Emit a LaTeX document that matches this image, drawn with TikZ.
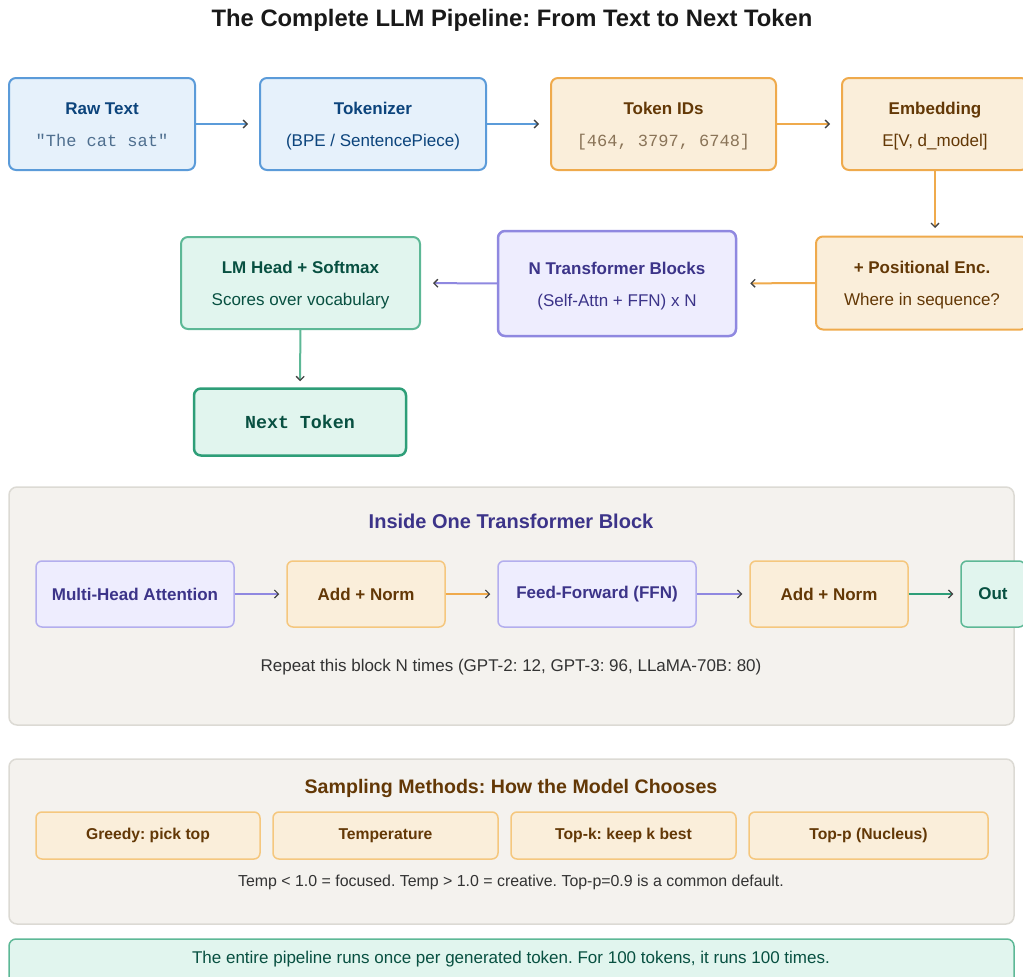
\documentclass[tikz,border=0pt]{standalone}
\usepackage{fontspec}
\setmainfont{Liberation Sans}
\setmonofont{Liberation Mono}
\usetikzlibrary{arrows.meta}
\frenchspacing

\definecolor{bluefill}{HTML}{E6F1FB}
\definecolor{blueline}{HTML}{5B9BD9}
\definecolor{bluetext}{HTML}{0C447C}
\definecolor{bluemono}{HTML}{4F6F8F}
\definecolor{orfill}{HTML}{FAEEDA}
\definecolor{orline}{HTML}{EFAA4C}
\definecolor{orlight}{HTML}{F5C77E}
\definecolor{ortext}{HTML}{633806}
\definecolor{ormono}{HTML}{8A7458}
\definecolor{grfill}{HTML}{E1F5EE}
\definecolor{grline}{HTML}{5DB896}
\definecolor{grdark}{HTML}{2E9E78}
\definecolor{grtext}{HTML}{085041}
\definecolor{pufill}{HTML}{EEEDFE}
\definecolor{puline}{HTML}{8F88E0}
\definecolor{pulight}{HTML}{B3AEEE}
\definecolor{putext}{HTML}{3C3489}
\definecolor{panelfill}{HTML}{F4F2EE}
\definecolor{panelline}{HTML}{DCDAD4}
\definecolor{tipcol}{HTML}{444444}
\definecolor{captext}{HTML}{333333}

% bold heading line over a plain second line, with fixed outer struts
\newcommand\boxlines[2]{\rule{0pt}{17pt}{\bfseries #1}\\#2\rule[-4pt]{0pt}{4pt}}

\tikzset{
  base/.style={rounded corners=7pt, line width=2pt, align=center, inner sep=0pt,
    font=\fontsize{17}{32}\selectfont},
  bluebox/.style={base, draw=blueline, fill=bluefill, text=bluetext},
  orbox/.style={base, draw=orline, fill=orfill, text=ortext},
  grbox/.style={base, draw=grline, fill=grfill, text=grtext},
  pubox/.style={base, draw=puline, fill=pufill, text=putext},
  innerbox/.style={rounded corners=6pt, line width=1.5pt, inner sep=0pt,
    minimum height=66pt, font=\fontsize{17}{20}\selectfont\bfseries},
  sampbox/.style={rounded corners=6pt, line width=1.5pt, inner sep=0pt,
    draw=orlight, fill=orfill, text=ortext, minimum height=47pt,
    font=\fontsize{15.7}{18}\selectfont\bfseries},
  panel/.style={rounded corners=8pt, line width=1.5pt, draw=panelline, fill=panelfill},
  flow/.style={line width=2pt,
    -{Straight Barb[length=4pt,width=8pt,line width=1.3pt,color=tipcol]}},
  thinflow/.style={line width=1.5pt,
    -{Straight Barb[length=4pt,width=8pt,line width=1.2pt,color=tipcol]}},
  caption/.style={text=captext, font=\fontsize{17}{20}\selectfont},
}

\begin{document}
\begin{tikzpicture}[x=1pt,y=-1pt]
\useasboundingbox (0,0) rectangle (1023,977);

% heading
\node[font=\fontsize{23.8}{28}\selectfont\bfseries, text=black!90] (title) at (512,20)
  {The Complete LLM Pipeline: From Text to Next Token};

% main pipeline
\node[bluebox, minimum width=186pt, minimum height=92pt] (raw) at (102,124)
  {\boxlines{Raw Text}{{\color{bluemono}\ttfamily "The cat sat"}}};
\node[bluebox, minimum width=226pt, minimum height=92pt] (tok) at (373,124)
  {\boxlines{Tokenizer}{(BPE / SentencePiece)}};
\node[orbox, minimum width=225pt, minimum height=92pt] (ids) at (663.5,124)
  {\boxlines{Token IDs}{{\color{ormono}\ttfamily[464, 3797, 6748]}}};
\node[orbox, minimum width=186pt, minimum height=92pt] (emb) at (935,124)
  {\boxlines{Embedding}{E[V, d\_model]}};
\node[orbox, minimum width=212pt, minimum height=93pt] (pos) at (922,283)
  {\boxlines{+ Positional Enc.}{Where in sequence?}};
\node[pubox, line width=2.5pt, minimum width=238pt, minimum height=105pt] (ntb) at (617,283.5)
  {\boxlines{N Transformer Blocks}{(Self-Attn + FFN) x N}};
\node[grbox, minimum width=239pt, minimum height=92pt] (lm) at (300.5,283)
  {\boxlines{LM Head + Softmax}{Scores over vocabulary}};
\node[grbox, draw=grdark, line width=2.5pt, minimum width=212pt, minimum height=67pt,
  font=\fontsize{18.3}{22}\selectfont\ttfamily\bfseries] (next) at (300,422) {Next Token};

\draw[flow, draw=blueline, shorten >=11pt] (raw) -- (tok);
\draw[flow, draw=blueline, shorten >=11pt] (tok) -- (ids);
\draw[flow, draw=orline, shorten >=11pt] (ids) -- (emb);
\draw[flow, draw=orline, shorten >=8pt] (emb.south -| 935,0) -- (935,236);
\draw[flow, draw=orline, shorten >=13pt] (pos) -- (ntb);
\draw[flow, draw=puline, shorten >=12pt] (ntb) -- (lm);
\draw[flow, draw=grline, shorten >=6pt] (lm) -- (next);

% inside one transformer block
\draw[panel] (9,487) rectangle (1014,725);
\node[font=\fontsize{20}{24}\selectfont\bfseries, text=putext] (blocktitle) at (511,521)
  {Inside One Transformer Block};
\node[innerbox, draw=pulight, fill=pufill, text=putext, minimum width=198pt] (mha) at (135,594)
  {Multi-Head Attention};
\node[innerbox, draw=orlight, fill=orfill, text=ortext, minimum width=158pt] (an1) at (366,594)
  {Add + Norm};
\node[innerbox, draw=pulight, fill=pufill, text=putext, minimum width=198pt] (ffn) at (597,594)
  {Feed-Forward (FFN)};
\node[innerbox, draw=orlight, fill=orfill, text=ortext, minimum width=158pt] (an2) at (829,594)
  {Add + Norm};
\node[innerbox, draw=grline, fill=grfill, text=grtext, minimum width=64pt] (out) at (993,594)
  {Out};
\draw[thinflow, draw=puline, shorten >=7pt] (mha) -- (an1);
\draw[thinflow, draw=orline, shorten >=7pt] (an1) -- (ffn);
\draw[thinflow, draw=puline, shorten >=7pt] (ffn) -- (an2);
\draw[thinflow, draw=grdark, shorten >=7pt] (an2) -- (out);
\node[caption] (repeat) at (511,667)
  {Repeat this block N times (GPT-2: 12, GPT-3: 96, LLaMA-70B: 80)};

% sampling methods
\draw[panel] (9,759) rectangle (1014,924);
\node[font=\fontsize{19.6}{23}\selectfont\bfseries, text=ortext] (samptitle) at (511,788)
  {Sampling Methods: How the Model Chooses};
\node[sampbox, minimum width=224pt] (greedy) at (148,835.5) {Greedy: pick top};
\node[sampbox, minimum width=225pt] (temp) at (385.5,835.5) {Temperature};
\node[sampbox, minimum width=225pt] (topk) at (623.5,835.5) {Top-k: keep k best};
\node[sampbox, minimum width=239pt] (topp) at (868.5,835.5) {Top-p (Nucleus)};
\node[caption, font=\fontsize{15.9}{19}\selectfont] (sampnote) at (511,882)
  {Temp < 1.0 = focused. Temp > 1.0 = creative. Top-p=0.9 is a common default.};

% closing note
\draw[rounded corners=7pt, line width=1.5pt, draw=grline, fill=grfill] (9,939) rectangle (1014,995);
\node[text=grtext, font=\fontsize{17}{20}\selectfont] (note) at (511,959)
  {The entire pipeline runs once per generated token. For 100 tokens, it runs 100 times.};
\end{tikzpicture}
\end{document}
